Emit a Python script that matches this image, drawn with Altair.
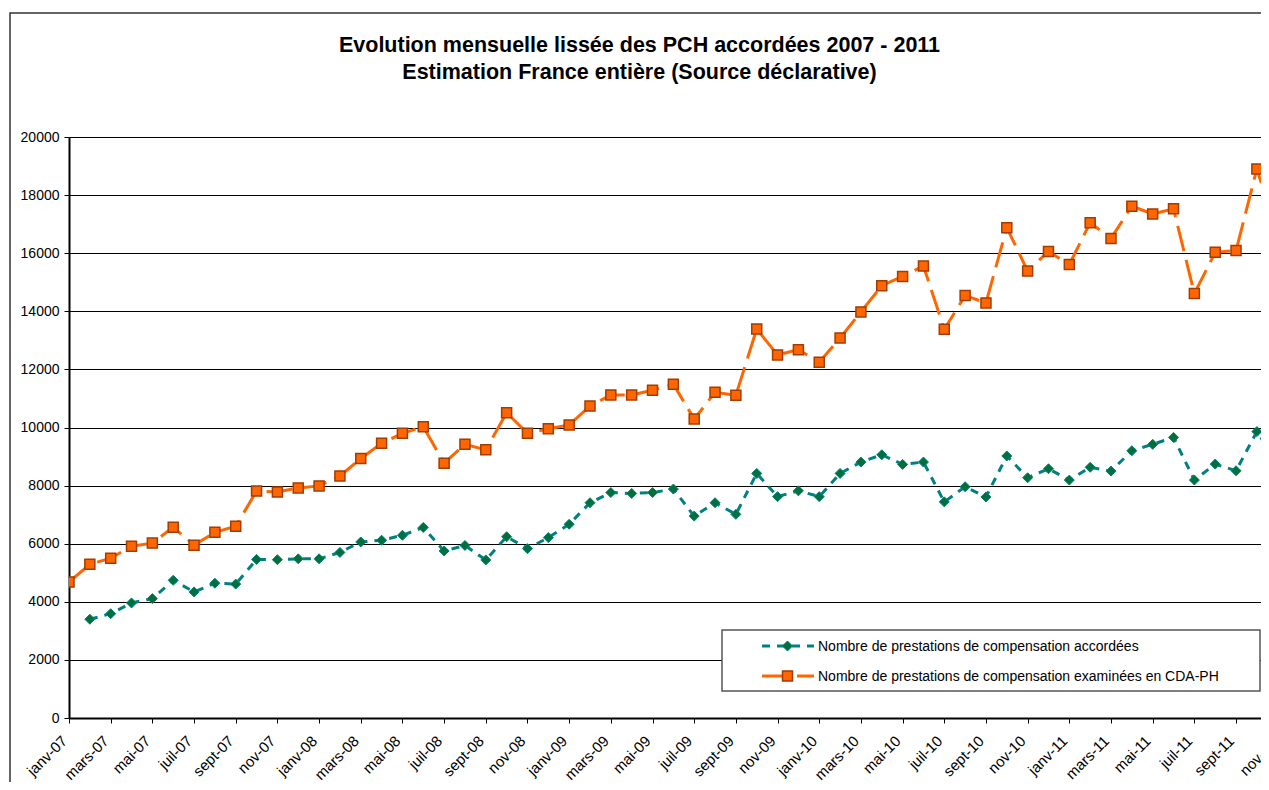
import altair as alt
import pandas as pd

# ---------------- data ----------------
months = [
    "janv-07", "févr-07", "mars-07", "avr-07", "mai-07", "juin-07", "juil-07", "août-07", "sept-07", "oct-07", "nov-07", "déc-07",
    "janv-08", "févr-08", "mars-08", "avr-08", "mai-08", "juin-08", "juil-08", "août-08", "sept-08", "oct-08", "nov-08", "déc-08",
    "janv-09", "févr-09", "mars-09", "avr-09", "mai-09", "juin-09", "juil-09", "août-09", "sept-09", "oct-09", "nov-09", "déc-09",
    "janv-10", "févr-10", "mars-10", "avr-10", "mai-10", "juin-10", "juil-10", "août-10", "sept-10", "oct-10", "nov-10", "déc-10",
    "janv-11", "févr-11", "mars-11", "avr-11", "mai-11", "juin-11", "juil-11", "août-11", "sept-11", "oct-11", "nov-11",
]

examinees = [
    4680, 5290, 5500, 5910, 6020, 6570, 5950, 6390, 6600, 7810,
    7780, 7920, 7990, 8330, 8930, 9460, 9800, 10030, 8770, 9420,
    9230, 10510, 9800, 9960, 10090, 10740, 11120, 11120, 11280, 11490,
    10290, 11210, 11110, 13390, 12500, 12680, 12250, 13080, 13980, 14880,
    15200, 15560, 13380, 14540, 14290, 16880, 15390, 16060, 15610, 17050,
    16510, 17620, 17350, 17530, 14610, 16030, 16090, 18900, 16600,
]

# starts in févr-07
accordees = [
    3400, 3590, 3960, 4110, 4740, 4340, 4640, 4610, 5460,
    5450, 5480, 5480, 5700, 6060, 6120, 6290, 6560, 5750, 5940,
    5440, 6240, 5830, 6210, 6670, 7410, 7760, 7730, 7760, 7880,
    6950, 7410, 7010, 8420, 7620, 7820, 7620, 8420, 8810, 9060,
    8730, 8810, 7440, 7960, 7610, 9020, 8270, 8580, 8190, 8630,
    8500, 9200, 9420, 9660, 8190, 8740, 8510, 9860, 8780,
]

tick_labels = months[::2]
y_ticks = [0, 2000, 4000, 6000, 8000, 10000, 12000, 14000, 16000, 18000, 20000]

title_lines = [
    "Evolution mensuelle lissée des PCH accordées 2007 - 2011",
    "Estimation France entière (Source déclarative)",
]
legend_labels = [
    "Nombre de prestations de compensation accordées",
    "Nombre de prestations de compensation examinées en CDA-PH",
]

# ---------------- tables ----------------
df_ex = pd.DataFrame({"i": list(range(len(examinees))), "v": examinees})
off = len(months) - len(accordees)
df_ac = pd.DataFrame({"i": list(range(off, off + len(accordees))), "v": accordees})
df_extra_lab = pd.DataFrame({"i": [len(months) - 1], "lab": [months[-1]]})
one = pd.DataFrame({"a": [0]})

# ---------------- layout ----------------
W, H = 1192, 581
STEP = 20.84
FONT = "Liberation Sans"
ORANGE = "#FF6600"
ORANGE_EDGE = "#A33C00"
TEAL = "#008080"
GREEN_FILL = "#00703A"
XLAB = 15

x_scale = alt.Scale(domain=[0, W / STEP], nice=False, zero=False)
y_scale = alt.Scale(domain=[0, 20000], nice=False)

label_expr = "[" + ",".join("'" + t + "'" for t in tick_labels) + "][round(datum.value/2)]"

x_axis = alt.Axis(
    values=list(range(0, len(months) - 1, 2)),
    labelExpr=label_expr,
    labelAngle=315,
    labelAlign="right",
    labelBaseline="middle",
    labelPadding=15,
    labelOffset=-5,
    labelFont=FONT,
    labelFontSize=XLAB,
    labelColor="black",
    labelOverlap=False,
    labelFlush=False,
    labelBound=False,
    grid=False,
    domainColor="black",
    domainWidth=2,
    tickColor="black",
    tickSize=5,
    tickWidth=1,
    title=None,
)
y_axis = alt.Axis(
    values=y_ticks,
    format="d",
    labelFont=FONT,
    labelFontSize=14,
    labelColor="black",
    labelPadding=5,
    grid=True,
    gridColor="black",
    gridWidth=1,
    domainColor="black",
    domainWidth=2,
    tickColor="black",
    tickSize=5,
    tickWidth=1,
    title=None,
)

border = alt.Chart(one).mark_rect(
    fill="white", fillOpacity=0, stroke="#333333", strokeWidth=1.5, clip=False
).encode(x=alt.value(-59), x2=alt.value(W + 200), y=alt.value(-124), y2=alt.value(H + 300))

green_line = alt.Chart(df_ac).mark_line(
    color=TEAL, strokeWidth=3, strokeDash=[8, 7], clip=True
).encode(
    x=alt.X("i:Q", scale=x_scale, axis=x_axis),
    y=alt.Y("v:Q", scale=y_scale, axis=y_axis),
)
green_pts = alt.Chart(df_ac).mark_point(
    shape="diamond", filled=True, fill=GREEN_FILL, stroke=TEAL, strokeWidth=1,
    size=100, opacity=1, clip=True
).encode(x=alt.X("i:Q", scale=x_scale), y=alt.Y("v:Q", scale=y_scale))

orange_line = alt.Chart(df_ex).mark_line(
    color=ORANGE, strokeWidth=3, strokeDash=[26, 9], clip=True
).encode(x=alt.X("i:Q", scale=x_scale), y=alt.Y("v:Q", scale=y_scale))
orange_pts = alt.Chart(df_ex).mark_point(
    shape="square", filled=True, fill=ORANGE, stroke=ORANGE_EDGE, strokeWidth=1.5,
    size=100, opacity=1, clip=True
).encode(x=alt.X("i:Q", scale=x_scale), y=alt.Y("v:Q", scale=y_scale))

extra_label = alt.Chart(df_extra_lab).mark_text(
    font=FONT, fontSize=XLAB, color="black", angle=315, align="right",
    baseline="middle", dx=-5, clip=False
).encode(x=alt.X("i:Q", scale=x_scale), y=alt.value(H + 20), text="lab:N")

title1 = alt.Chart(one).mark_text(
    font=FONT, fontSize=21.5, fontWeight="bold", color="black", align="center",
    baseline="alphabetic", text=title_lines[0]
).encode(x=alt.value(570.5), y=alt.value(-85))
title2 = alt.Chart(one).mark_text(
    font=FONT, fontSize=21.5, fontWeight="bold", color="black", align="center",
    baseline="alphabetic", text=title_lines[1]
).encode(x=alt.value(570.5), y=alt.value(-58))

# legend (drawn by hand)
LX0, LX1, LY0, LY1 = 653, 1191, 493, 554
leg_box = alt.Chart(one).mark_rect(
    fill="white", stroke="#555555", strokeWidth=1.5
).encode(x=alt.value(LX0), x2=alt.value(LX1), y=alt.value(LY0), y2=alt.value(LY1))
leg_g_line = alt.Chart(one).mark_rule(
    color=TEAL, strokeWidth=3, strokeDash=[8, 7]
).encode(x=alt.value(693), x2=alt.value(745), y=alt.value(509))
leg_g_pt = alt.Chart(one).mark_point(
    shape="diamond", filled=True, fill=GREEN_FILL, stroke=TEAL, strokeWidth=1, size=100, opacity=1
).encode(x=alt.value(718.5), y=alt.value(509))
leg_o_line = alt.Chart(one).mark_rule(
    color=ORANGE, strokeWidth=3, strokeDash=[26, 9]
).encode(x=alt.value(693), x2=alt.value(745), y=alt.value(539))
leg_o_pt = alt.Chart(one).mark_point(
    shape="square", filled=True, fill=ORANGE, stroke=ORANGE_EDGE, strokeWidth=1.5, size=100, opacity=1
).encode(x=alt.value(718.5), y=alt.value(539))
leg_t1 = alt.Chart(one).mark_text(
    font=FONT, fontSize=14, color="black", align="left", baseline="middle", text=legend_labels[0]
).encode(x=alt.value(749), y=alt.value(510))
leg_t2 = alt.Chart(one).mark_text(
    font=FONT, fontSize=14, color="black", align="left", baseline="middle", text=legend_labels[1]
).encode(x=alt.value(749), y=alt.value(540))

chart = alt.layer(
    border, green_line, green_pts, orange_line, orange_pts, extra_label,
    title1, title2, leg_box, leg_g_line, leg_g_pt, leg_o_line, leg_o_pt, leg_t1, leg_t2,
).properties(
    width=W, height=H,
    autosize=alt.AutoSizeParams(type="none"),
    padding={"left": 61, "top": 129, "right": 0, "bottom": 64},
    background="white",
).configure_view(stroke=None)

chart.save("out.html", embed_options={"renderer": "svg", "actions": False})
